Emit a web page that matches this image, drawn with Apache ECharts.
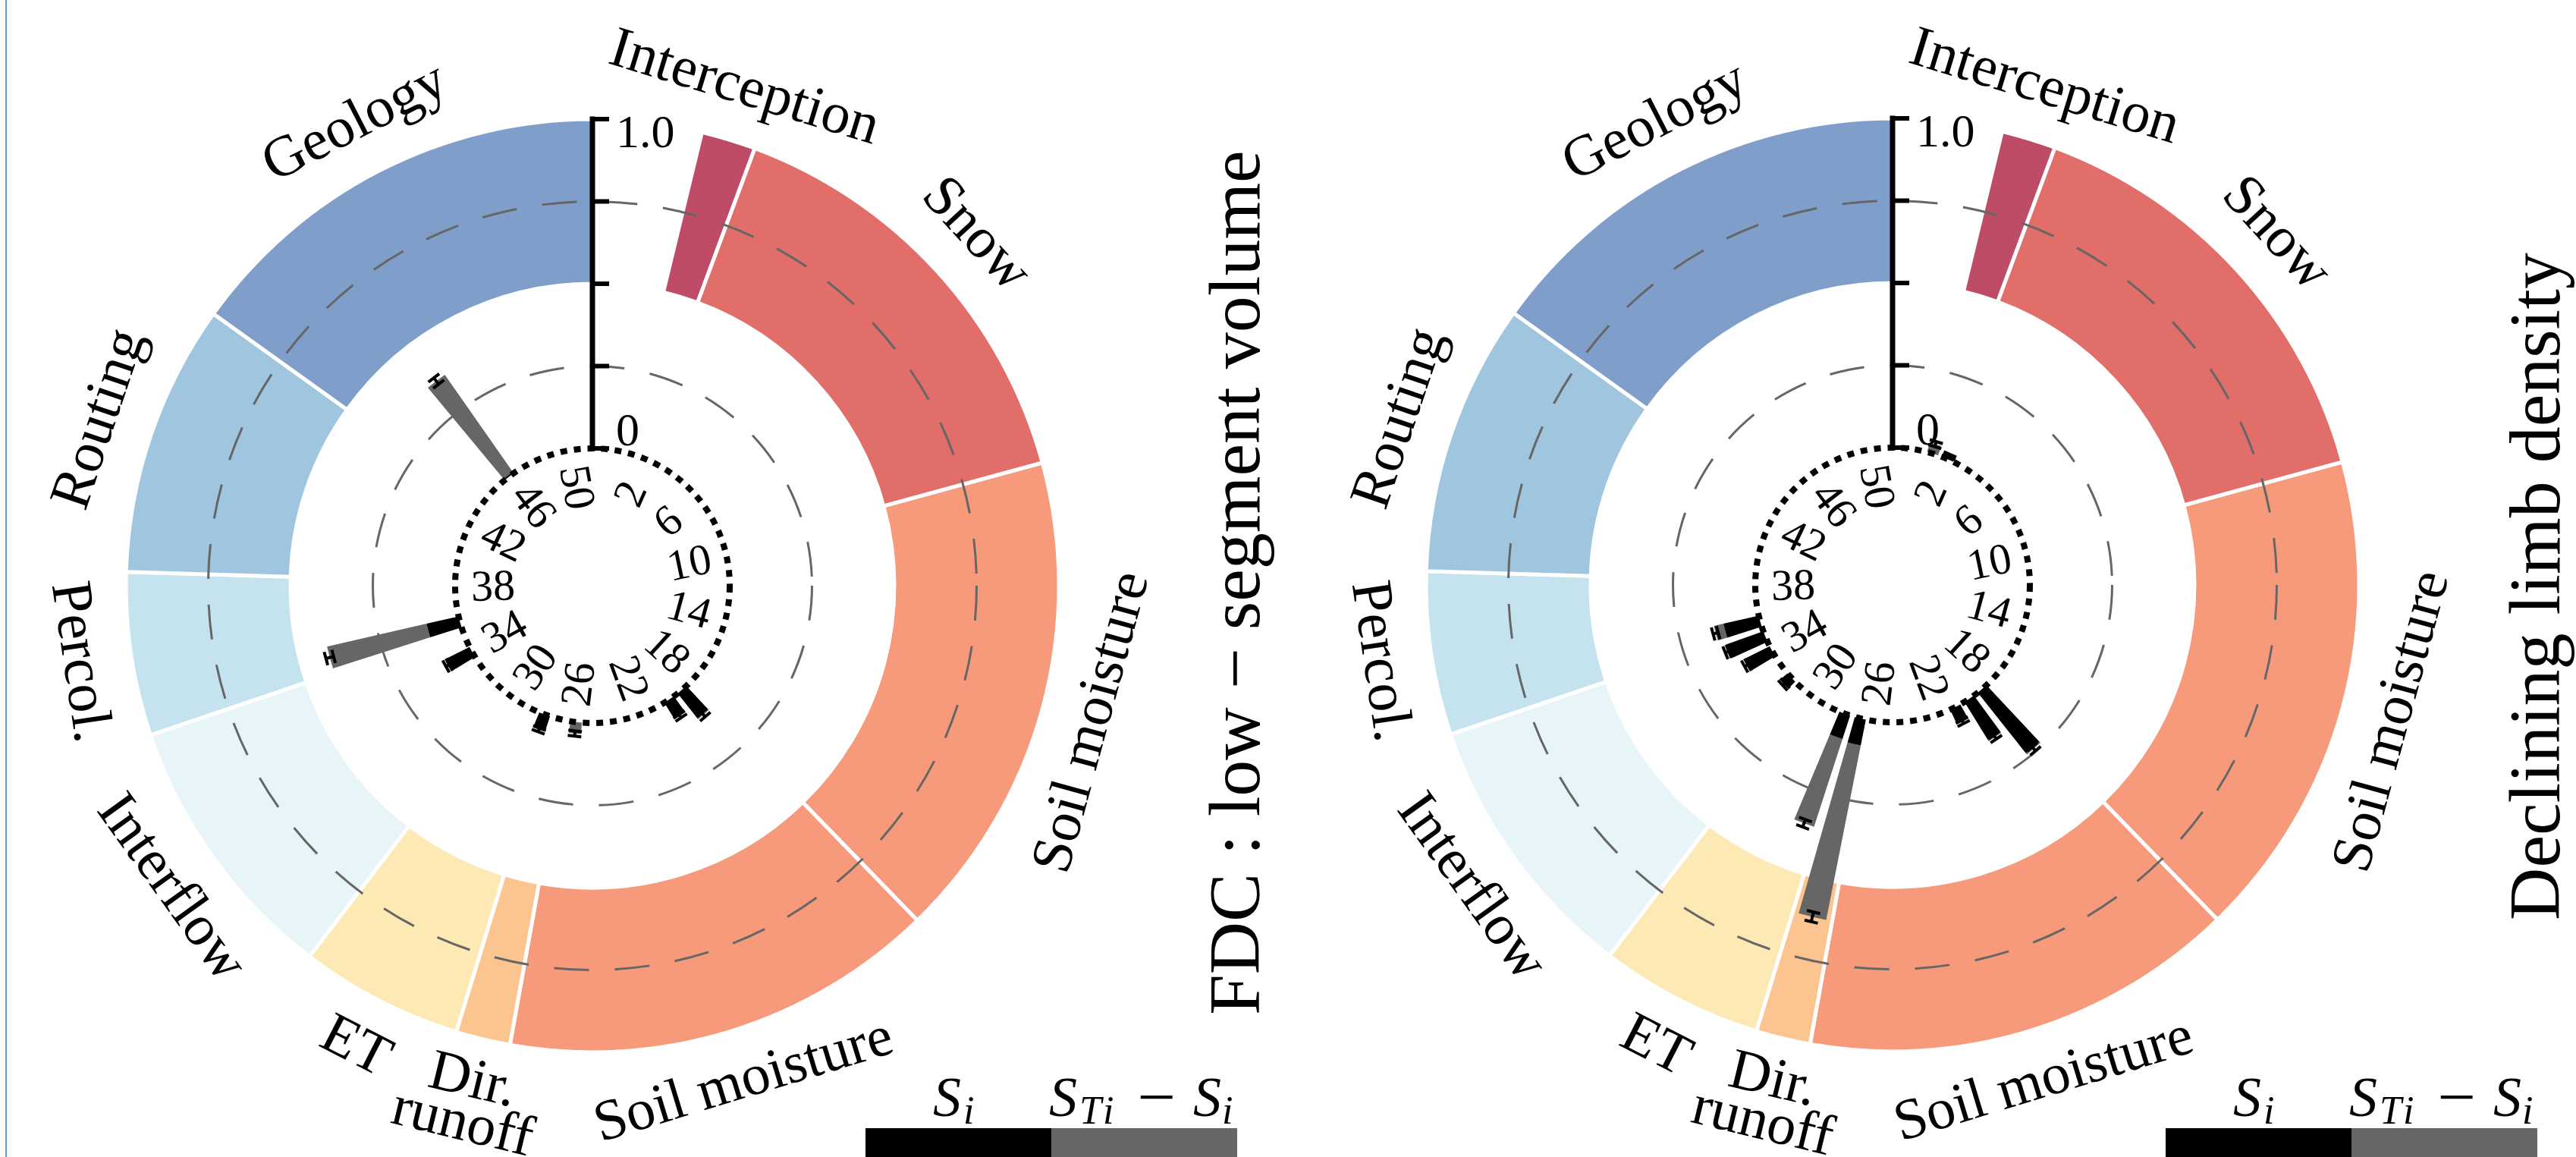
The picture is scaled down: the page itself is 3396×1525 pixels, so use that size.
<!DOCTYPE html>
<html>
<head>
<meta charset="utf-8">
<script src="https://cdn.jsdelivr.net/npm/echarts@6/dist/echarts.min.js"></script>
<style>
html, body { margin: 0; padding: 0; background: #fff; }
#main { width: 3396px; height: 1525px; }
</style>
</head>
<body>
<div id="main"></div>
<script>
// 53 slots round the circle: two empty ones at the top, then parameters 1..51
var nSlots = 53;
var paramOffset = 1; // parameter k sits in slot k+1
var rMin = -0.417;   // radial origin below 0 (leaves the hole in the middle)

var groupNames = ['Interception', 'Snow', 'Soil moisture', 'Soil moisture', 'Dir.\nrunoff', 'ET', 'Interflow', 'Percol.', 'Routing', 'Geology'];
var groupStart = [2, 3, 11, 20, 28, 29, 32, 37, 40, 45];
var groupEnd   = [3, 11, 20, 28, 29, 32, 37, 40, 45, 53];
var groupColors = ['#bf4c67', '#e26e69', '#f69a7b', '#f69a7b', '#fcc590', '#fde9b4', '#e7f5f9', '#c4e3ee', '#9fc6de', '#7f9fca'];

var paramTicks = [2, 6, 10, 14, 18, 22, 26, 30, 34, 38, 42, 46, 50];
var radialTicks = [0, 0.25, 0.5, 0.75, 1.0];
var radialTickLabels = ['0', '', '', '', '1.0'];
var gridCircles = [0.25, 0.75];

// FDC : low - segment volume
var fdcParams = [19, 20, 26, 28, 34, 36, 46];
var fdcSi     = [0.095, 0.055, 0.0, 0.045, 0.08, 0.10, 0.005];
var fdcSTi    = [0.10, 0.06, 0.035, 0.05, 0.085, 0.41, 0.365];
var fdcErr    = [0.008, 0.006, 0.008, 0.006, 0.006, 0.012, 0.012];

// Declining limb density
var dldParams = [1, 2, 19, 20, 21, 27, 28, 32, 34, 35, 36];
var dldSi     = [0.0, 0.004, 0.235, 0.135, 0.045, 0.08, 0.075, 0.025, 0.085, 0.12, 0.11];
var dldSTi    = [0.03, 0.012, 0.24, 0.14, 0.05, 0.62, 0.355, 0.03, 0.09, 0.125, 0.14];
var dldErr    = [0.008, 0.004, 0.008, 0.007, 0.006, 0.015, 0.012, 0.005, 0.006, 0.006, 0.008];

var barFrac = 0.7;
var serif = '"Liberation Serif", "DejaVu Serif", serif';

function geo(params, api) {
  var cx = params.coordSys.cx, cy = params.coordSys.cy;
  return {
    cx: cx, cy: cy,
    pt: function (r, a) { return api.coord([r, a]); },
    rad: function (r) { var p = api.coord([r, 0]); return Math.sqrt((p[0] - cx) * (p[0] - cx) + (p[1] - cy) * (p[1] - cy)); },
    ang: function (a) { var p = api.coord([1, a]); return Math.atan2(p[1] - cy, p[0] - cx); }
  };
}

function wedge(g, a0, a1, r0, r1, color) {
  var s = g.ang(a0), e = g.ang(a1);
  while (e <= s) e += Math.PI * 2;
  return {
    type: 'sector',
    shape: { cx: g.cx, cy: g.cy, r0: g.rad(r0), r: g.rad(r1), startAngle: s, endAngle: e, clockwise: true },
    style: { fill: color }
  };
}

function renderRing(params, api) {
  var g = geo(params, api);
  var i = params.dataIndex;
  var el = wedge(g, groupStart[i], groupEnd[i], 0.5, 1.0, groupColors[i]);
  el.style.stroke = '#fff';
  el.style.lineWidth = 5;
  return el;
}

function renderGrid(params, api) {
  var g = geo(params, api);
  return {
    type: 'circle',
    shape: { cx: g.cx, cy: g.cy, r: g.rad(api.value(0)) },
    style: { fill: 'transparent', stroke: '#666', lineWidth: 3, lineDash: [46, 34] }
  };
}

function renderSpine(params, api) {
  var g = geo(params, api);
  return {
    type: 'circle',
    shape: { cx: g.cx, cy: g.cy, r: g.rad(api.value(0)) },
    style: { fill: 'transparent', stroke: '#000', lineWidth: 8, lineDash: [9, 9] }
  };
}

function makeBarRender(pIds, si, sti, err) {
  return function (params, api) {
    var g = geo(params, api);
    var i = params.dataIndex;
    var c = pIds[i] + paramOffset + 0.5;
    var h = barFrac / 2;
    var children = [];
    if (sti[i] > si[i]) children.push(wedge(g, c - h, c + h, si[i], sti[i], '#666'));
    if (si[i] > 0) children.push(wedge(g, c - h, c + h, 0, si[i], '#000'));
    // error bar at the tip
    var a = g.ang(c);
    var ux = Math.cos(a), uy = Math.sin(a), px = -uy, py = ux;
    var lo = g.rad(sti[i] - err[i]), hi = g.rad(sti[i] + err[i]);
    var cap = 9;
    var st = { stroke: '#000', lineWidth: 4 };
    children.push({ type: 'line', shape: { x1: g.cx + ux * lo, y1: g.cy + uy * lo, x2: g.cx + ux * hi, y2: g.cy + uy * hi }, style: st });
    [lo, hi].forEach(function (r) {
      var x = g.cx + ux * r, y = g.cy + uy * r;
      children.push({ type: 'line', shape: { x1: x - px * cap, y1: y - py * cap, x2: x + px * cap, y2: y + py * cap }, style: st });
    });
    return { type: 'group', children: children };
  };
}

function renderAxis(params, api) {
  var g = geo(params, api);
  var i = params.dataIndex;
  var a = g.ang(0);
  var ux = Math.cos(a), uy = Math.sin(a), px = -uy, py = ux;
  var r = g.rad(api.value(0));
  var x = g.cx + ux * r, y = g.cy + uy * r;
  var children = [{ type: 'line', shape: { x1: x, y1: y, x2: x + px * 22, y2: y + py * 22 }, style: { stroke: '#000', lineWidth: 6 } }];
  if (i === 0) {
    var r0 = g.rad(radialTicks[0]), r1 = g.rad(radialTicks[radialTicks.length - 1]);
    children.push({ type: 'line', shape: { x1: g.cx + ux * r0, y1: g.cy + uy * r0, x2: g.cx + ux * r1, y2: g.cy + uy * r1 }, style: { stroke: '#000', lineWidth: 7, lineCap: 'square' } });
  }
  var lab = radialTickLabels[i];
  if (lab) {
    var shift = i === 0 ? 20 : -21;
    children.push({
      type: 'text', x: x + px * 31 + ux * shift, y: y + py * 31 + uy * shift,
      style: { text: lab, fill: '#000', font: '62px ' + serif, align: 'left', verticalAlign: 'middle' }
    });
  }
  return { type: 'group', children: children };
}

function renderGroupLabel(params, api) {
  var g = geo(params, api);
  var i = params.dataIndex;
  var name = groupNames[i];
  var p = g.pt(api.value(0), api.value(1));
  var theta = g.ang(api.value(1)) + Math.PI / 2;
  theta = (theta + Math.PI * 2) % (Math.PI * 2);
  var rot = -theta;
  if (theta > Math.PI / 2 && theta < Math.PI * 1.5) rot += Math.PI;
  return {
    type: 'text', x: p[0], y: p[1], rotation: rot,
    style: { text: name, fill: '#000', font: '76px ' + serif, align: 'center', verticalAlign: 'middle', lineHeight: 58 }
  };
}

function renderParamLabel(params, api) {
  var g = geo(params, api);
  var p = g.pt(api.value(0), api.value(1));
  var theta = g.ang(api.value(1)) + Math.PI / 2;
  theta = (theta + Math.PI * 2) % (Math.PI * 2);
  var rot = theta < Math.PI ? Math.PI / 2 - theta : Math.PI * 1.5 - theta;
  return {
    type: 'text', x: p[0], y: p[1], rotation: rot,
    style: { text: String(paramTicks[params.dataIndex]), fill: '#000', font: '58px ' + serif, align: 'center', verticalAlign: 'middle' }
  };
}

function panelSeries(k, pIds, si, sti, err) {
  var base = { type: 'custom', coordinateSystem: 'polar', polarIndex: k, clip: false, silent: true, animation: false };
  function s(extra) { return Object.assign({}, base, extra); }
  return [
    s({ z: 1, renderItem: renderRing, data: groupStart.map(function (st, i) { return [0.75, (st + groupEnd[i]) / 2]; }) }),
    s({ z: 2, renderItem: renderGrid, data: gridCircles.map(function (r) { return [r, 0]; }) }),
    s({ z: 3, renderItem: makeBarRender(pIds, si, sti, err), data: pIds.map(function (p, i) { return [sti[i], p + paramOffset + 0.5]; }) }),
    s({ z: 4, renderItem: renderSpine, data: [[0, 0]] }),
    s({ z: 5, renderItem: renderAxis, data: radialTicks.map(function (t) { return [t, 0]; }) }),
    s({ z: 6, renderItem: renderGroupLabel, data: groupStart.map(function (st, i) { return [groupNames[i].indexOf('\n') >= 0 ? 1.2 : 1.16, (st + groupEnd[i]) / 2]; }) }),
    s({ z: 6, renderItem: renderParamLabel, data: paramTicks.map(function (p) { return [-0.115, p + paramOffset + 0.5]; }) })
  ];
}

function legend(x0) {
  var it = 'italic 74px ' + serif, sub = 'italic 52px ' + serif;
  function t(x, y, txt, font, align) {
    return { type: 'text', x: x, y: y, style: { text: txt, font: font, fill: '#000', align: align || 'left', verticalAlign: 'middle' } };
  }
  return [
    { type: 'rect', shape: { x: x0, y: 1487, width: 245, height: 38 }, style: { fill: '#000' } },
    { type: 'rect', shape: { x: x0 + 245, y: 1487, width: 245, height: 38 }, style: { fill: '#666' } },
    t(x0 + 89, 1452, 'S', it),
    t(x0 + 129, 1467, 'i', sub),
    t(x0 + 242, 1452, 'S', it),
    t(x0 + 282, 1467, 'T', sub),
    t(x0 + 313, 1467, 'i', sub),
    t(x0 + 384, 1452, '\u2212', '90px ' + serif, 'center'),
    t(x0 + 432, 1452, 'S', it),
    t(x0 + 470, 1467, 'i', sub)
  ];
}

var chart = echarts.init(document.getElementById('main'));

var polarCenters = [[781, 772], [2495, 771]];

var option = {
  animation: false,
  backgroundColor: '#fff',
  polar: polarCenters.map(function (c) { return { center: c, radius: [0, 615] }; }),
  angleAxis: [0, 1].map(function (k) {
    return { polarIndex: k, type: 'value', min: 0, max: nSlots, startAngle: 90, clockwise: true, show: false };
  }),
  radiusAxis: [0, 1].map(function (k) {
    return { polarIndex: k, type: 'value', min: rMin, max: 1, show: false };
  }),
  series: panelSeries(0, fdcParams, fdcSi, fdcSTi, fdcErr).concat(panelSeries(1, dldParams, dldSi, dldSTi, dldErr)),
  graphic: [
    { type: 'rect', shape: { x: 7, y: 0, width: 2, height: 1525 }, style: { fill: '#5b9bd5' } },
    { type: 'text', x: 1635, y: 768, rotation: Math.PI / 2,
      style: { text: 'FDC : low \u2212 segment volume', font: '96px ' + serif, fill: '#000', align: 'center', verticalAlign: 'middle' } },
    { type: 'text', x: 3349, y: 773, rotation: Math.PI / 2,
      style: { text: 'Declining limb density', font: '96px ' + serif, fill: '#000', align: 'center', verticalAlign: 'middle' } }
  ].concat(legend(1141)).concat(legend(2855))
};

chart.setOption(option);
</script>
</body>
</html>
